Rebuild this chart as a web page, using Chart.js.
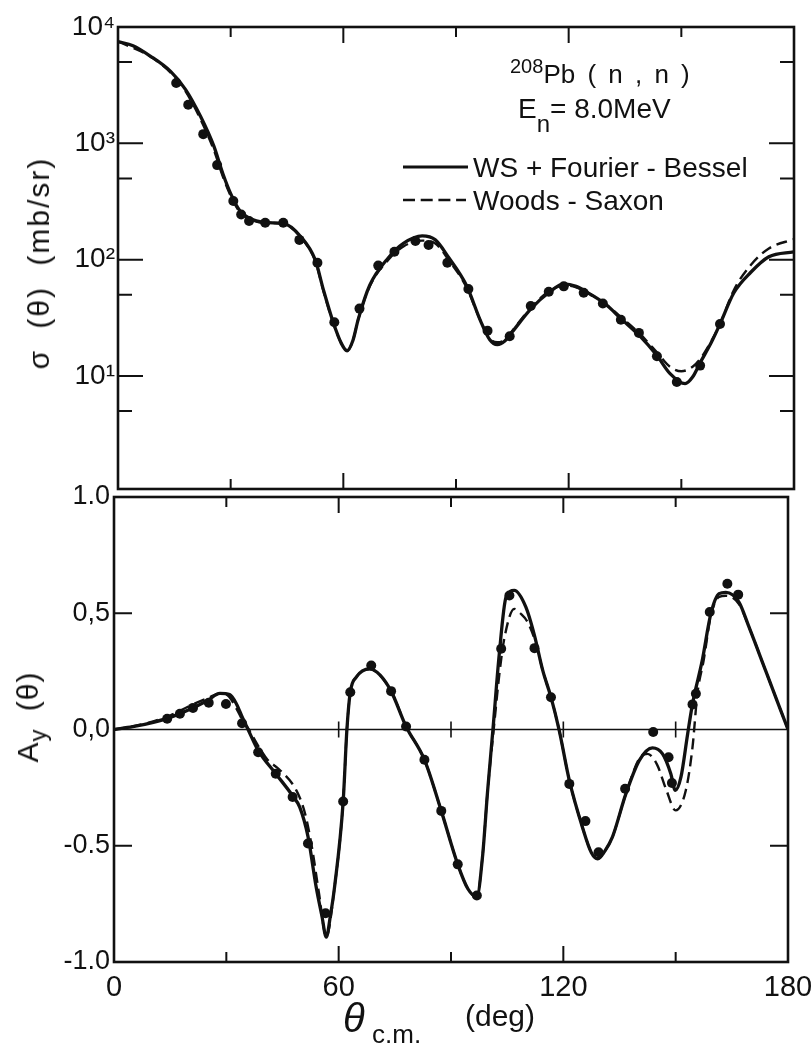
<!DOCTYPE html>
<html><head><meta charset="utf-8">
<script src="https://cdn.jsdelivr.net/npm/chart.js@4.4.0/dist/chart.umd.min.js"></script>
<style>
html,body{margin:0;padding:0;background:#fff;width:811px;height:1045px;overflow:hidden;font-family:"Liberation Sans",Arial,sans-serif;color:#111}
canvas{position:absolute;left:0}
#c1{top:0}
#c2{top:470px}
.t{position:absolute;white-space:nowrap;line-height:1;color:#111}
</style></head><body>
<canvas id="c1" width="811" height="495"></canvas>
<canvas id="c2" width="811" height="575"></canvas>

<div class="t" style="left:510px;top:61px;font-size:26px;word-spacing:5px"><span style="font-size:20px;position:relative;top:-10px">208</span>Pb ( n , n )</div>
<div class="t" style="left:518px;top:95px;font-size:28px">E<span style="font-size:24px;position:relative;top:14px">n</span>= 8.0MeV</div>
<svg class="t" style="left:400px;top:160px" width="72" height="50">
  <line x1="3" y1="7" x2="68" y2="7" stroke="#111" stroke-width="3.2"/>
  <line x1="3" y1="40" x2="66" y2="40" stroke="#111" stroke-width="2.4" stroke-dasharray="12 5.7"/>
</svg>
<div class="t" style="left:473px;top:154px;font-size:28px">WS + Fourier - Bessel</div>
<div class="t" style="left:473px;top:187px;font-size:28px">Woods - Saxon</div>

<div class="t" style="left:39px;top:263px;font-size:30px;letter-spacing:2px;word-spacing:10px;transform:translate(-50%,-50%) rotate(-90deg)">σ (θ) (mb/sr)</div>
<div class="t" style="left:28px;top:717px;font-size:30px;letter-spacing:1px;word-spacing:8px;transform:translate(-50%,-50%) rotate(-90deg)">A<span style="font-size:24px;position:relative;top:8px">y</span> (θ)</div>

<div class="t" style="left:343px;top:998px;font-size:40px;font-style:italic">θ</div>
<div class="t" style="left:372px;top:1021px;font-size:26px">c.m.</div>
<div class="t" style="left:465px;top:1001px;font-size:30px">(deg)</div>

<script>
// ---------- data ----------
const xTickValues = [0, 60, 120, 180];

const csTickValues = [10, 100, 1000, 10000];
const csTickLabels = ['10¹', '10²', '10³', '10⁴'];

const ayTickValues = [-1, -0.5, 0, 0.5, 1];
const ayTickLabels = ['-1.0', '-0.5', '0,0', '0,5', '1.0'];

// measured cross sections (deg, mb/sr)
const csAngle = [15.5,18.7,22.7,26.4,30.7,32.8,34.9,39.2,44.0,48.3,53.1,57.6,64.3,69.3,73.6,79.2,82.7,87.7,93.3,98.4,104.3,109.9,114.7,118.7,124.0,129.1,133.9,138.7,143.5,148.8,155.0,160.3];
const csValue = [3300,2150,1200,650,320,245,215,208,208,148,94,29,38,89,117,145,134,94,56,24.5,22,40,53,59,52,42,30.5,23.5,14.8,8.9,12.3,28];

// WS + Fourier-Bessel calculation
const csFbAngle = [0,4,8.5,14,18,22,25.5,28,30,32.5,36,40,44,48.5,52.5,54.7,57.3,59.5,61,62.5,64,67,72,76,81,84.5,88,92.8,96.5,99,101,103,105,110,115,118.7,122,126,130,134,139,143.5,147,151,153,155,158,160.3,164,168.5,173.3,180];
const csFbValue = [7500,6900,5650,4150,2900,1700,950,540,370,262,220,208,205,160,100,55,29,19,16.5,20,31,60,104,138,160,148,105,60,30,20.5,18.6,20,24,38,53,62,59,50,41,31,22,15,10.5,8.6,9.8,13,19.5,28,52,78,106,117];

// Woods-Saxon calculation
const csWsAngle = [0,8.5,14,18,22,25.5,28,30,32.5,36,40,44,48.5,52.5,54.7,57.3,59.5,61,62.5,64,67,72,76,81,84.5,88,92.8,96.5,99,101,103,105,110,115,118.7,122,126,130,134,139,143.5,147,150,153,155,158,160.3,164,168.5,173.3,180];
const csWsValue = [7500,5600,4050,2800,1600,880,510,355,255,218,207,204,158,98,54,28.5,19,16.5,20,31,59,100,130,146,138,100,58,30,21,19.5,20.5,24.5,39,54,60,58,50,41,32,23,16,12,11,12,14,20,28,55,90,125,150];

// measured analyzing power
const ayAngle = [14.2,17.6,21.1,25.3,29.9,34.2,38.5,43.2,47.7,51.8,56.5,61.2,63.1,68.7,74.0,78.0,82.9,87.4,91.8,96.9,103.4,105.6,112.3,116.7,121.6,125.9,129.4,136.5,144.0,148.1,149.0,154.5,155.4,159.1,163.8,166.7];
const ayValue = [0.046,0.068,0.093,0.115,0.11,0.027,-0.098,-0.19,-0.29,-0.49,-0.79,-0.31,0.16,0.275,0.165,0.013,-0.13,-0.35,-0.58,-0.714,0.347,0.576,0.35,0.139,-0.234,-0.394,-0.528,-0.255,-0.011,-0.119,-0.23,0.108,0.154,0.505,0.627,0.58];

const ayFbAngle = [0,5,10.5,15,20,25,28.3,30.9,32.7,34.2,35.8,38.5,43.2,47.7,49.6,51.8,54.0,55.5,56.7,57.8,58.9,61.2,62.2,63.1,64.7,68.3,71,74.0,78.0,82.9,87.4,91.8,94.5,96.9,98.4,99.8,101.2,102.9,104.7,106.9,110.0,112.3,114.5,116.7,118.9,121.6,125.1,127.5,129.2,131,133.1,136.7,140.3,143.8,146.5,148.7,149.9,151.4,153.2,154.5,157.1,159.4,161.6,163.4,166.9,169.6,174.0,180];
const ayFbValue = [0,0.012,0.031,0.052,0.085,0.125,0.155,0.15,0.11,0.055,0,-0.09,-0.19,-0.285,-0.334,-0.46,-0.678,-0.8,-0.893,-0.8,-0.678,-0.31,0,0.16,0.225,0.261,0.235,0.165,0.013,-0.13,-0.35,-0.58,-0.685,-0.72,-0.55,-0.26,0,0.326,0.569,0.598,0.526,0.404,0.254,0.139,-0.004,-0.219,-0.42,-0.53,-0.556,-0.525,-0.463,-0.277,-0.133,-0.079,-0.105,-0.19,-0.262,-0.205,-0.019,0.11,0.297,0.498,0.584,0.59,0.548,0.44,0.254,0];

const ayWsAngle = [0,5,10.5,15,20,25,28.3,30.5,32.7,34.5,36,38.5,41,44,48.7,51,53,54.7,56.7,58.9,61.2,62.2,63.1,64.7,68.3,74,78,82.9,87.4,91.8,94.5,96.9,98.4,99.8,101.4,103,104.3,106.9,108.5,110.5,112.7,114.5,116.7,118.9,121.6,125.1,127.5,129.2,131,133.1,136.7,140.3,142.5,145,147.5,150,152.7,154.5,155.8,157.5,159.4,161.6,163.4,166.9,169.6,174,180];
const ayWsValue = [0,0.013,0.035,0.06,0.1,0.135,0.155,0.145,0.09,0.035,0,-0.07,-0.13,-0.17,-0.262,-0.36,-0.52,-0.7,-0.89,-0.678,-0.31,0,0.16,0.225,0.26,0.165,0.013,-0.13,-0.35,-0.58,-0.685,-0.72,-0.55,-0.26,0,0.25,0.397,0.519,0.5,0.461,0.369,0.254,0.139,-0.004,-0.219,-0.42,-0.53,-0.556,-0.525,-0.463,-0.277,-0.125,-0.105,-0.15,-0.26,-0.348,-0.262,-0.076,0.154,0.3,0.49,0.57,0.575,0.54,0.44,0.254,0];

// ---------- helpers ----------
const pts = (xs, ys) => xs.map((x, i) => ({x: x, y: ys[i]}));
const INK = '#111';
Chart.defaults.font.family = '"Liberation Sans", Arial, sans-serif';
Chart.defaults.color = INK;

const framePlugin = {
  id: 'frame',
  beforeDatasetsDraw(chart, args, o) {
    if (!o.zeroLine) return;
    const {ctx, chartArea: a, scales} = chart;
    const y0 = scales.y.getPixelForValue(0);
    ctx.save();
    ctx.strokeStyle = INK;
    ctx.lineWidth = 1.6;
    ctx.beginPath();
    ctx.moveTo(a.left, y0); ctx.lineTo(a.right, y0);
    for (const v of o.zeroCross) {
      const x = scales.x.getPixelForValue(v);
      ctx.moveTo(x, y0 - 8); ctx.lineTo(x, y0 + 8);
    }
    ctx.stroke();
    ctx.restore();
  },
  afterDatasetsDraw(chart, args, o) {
    const {ctx, chartArea: a, scales} = chart;
    ctx.save();
    ctx.strokeStyle = INK;
    ctx.lineWidth = 2.6;
    ctx.strokeRect(a.left, a.top, a.right - a.left, a.bottom - a.top);
    ctx.lineWidth = 2;
    ctx.beginPath();
    for (const t of o.yMarks) {
      const y = scales.y.getPixelForValue(t[0]);
      ctx.moveTo(a.left, y); ctx.lineTo(a.left + t[1], y);
      ctx.moveTo(a.right, y); ctx.lineTo(a.right - t[1], y);
    }
    for (const t of o.xMarks) {
      const x = scales.x.getPixelForValue(t[0]);
      ctx.moveTo(x, a.top); ctx.lineTo(x, a.top + t[1]);
      ctx.moveTo(x, a.bottom); ctx.lineTo(x, a.bottom - t[1]);
    }
    ctx.stroke();
    ctx.restore();
  }
};

const xMarks = [[30, 10], [60, 16], [90, 10], [120, 16], [150, 10]];

function lineSet(label, data, width, dash) {
  return {type: 'line', label: label, data: data, borderColor: INK, borderWidth: width,
    borderDash: dash || [], pointRadius: 0, fill: false, cubicInterpolationMode: 'monotone'};
}
function dotSet(label, data) {
  return {type: 'scatter', label: label, data: data, showLine: false, pointRadius: 5,
    pointHoverRadius: 5, backgroundColor: INK, borderColor: INK, borderWidth: 0};
}

// ---------- top: cross section ----------
new Chart(document.getElementById('c1'), {
  type: 'line',
  data: {datasets: [
    lineSet('Woods - Saxon', pts(csWsAngle, csWsValue), 2.4, [11, 6]),
    lineSet('WS + Fourier - Bessel', pts(csFbAngle, csFbValue), 3.3),
    dotSet('data', pts(csAngle, csValue))
  ]},
  options: {
    responsive: false, animation: false, events: [],
    layout: {padding: {left: 0, right: 17, top: 27, bottom: 6}},
    plugins: {
      legend: {display: false}, tooltip: {enabled: false},
      frame: {xMarks: xMarks, yMarks: [[5,14],[10,25],[50,14],[100,25],[500,14],[1000,25],[5000,14]]}
    },
    scales: {
      x: {type: 'linear', min: 0, max: 180, display: false},
      y: {
        type: 'logarithmic', min: 1.07, max: 10000,
        grid: {display: false, drawTicks: false}, border: {display: false},
        afterBuildTicks(s) { s.ticks = csTickValues.map(v => ({value: v})); },
        afterFit(s) { s.width = 118; s.paddingTop = 0; s.paddingBottom = 0; },
        ticks: {padding: 3, font: {size: 28}, color: INK,
          callback: (v) => { const i = csTickValues.indexOf(v); return i >= 0 ? csTickLabels[i] : ''; }}
      }
    }
  },
  plugins: [framePlugin]
});

// ---------- bottom: analyzing power ----------
new Chart(document.getElementById('c2'), {
  type: 'line',
  data: {datasets: [
    lineSet('Woods - Saxon', pts(ayWsAngle, ayWsValue), 2.4, [11, 6]),
    lineSet('WS + Fourier - Bessel', pts(ayFbAngle, ayFbValue), 3.3),
    dotSet('data', pts(ayAngle, ayValue))
  ]},
  options: {
    responsive: false, animation: false, events: [],
    layout: {padding: {left: 0, right: 23, top: 27, bottom: 0}},
    plugins: {
      legend: {display: false}, tooltip: {enabled: false},
      frame: {xMarks: xMarks, yMarks: [[0.5, 18], [-0.5, 18]], zeroLine: true, zeroCross: [60, 90, 120, 150]}
    },
    scales: {
      x: {
        type: 'linear', min: 0, max: 180,
        grid: {display: false, drawTicks: false}, border: {display: false},
        afterBuildTicks(s) { s.ticks = xTickValues.map(v => ({value: v})); },
        afterFit(s) { s.height = 83; s.paddingLeft = 0; s.paddingRight = 0; },
        ticks: {padding: 9, font: {size: 29}, color: INK, maxRotation: 0, autoSkip: false}
      },
      y: {
        type: 'linear', min: -1, max: 1,
        grid: {display: false, drawTicks: false}, border: {display: false},
        afterBuildTicks(s) { s.ticks = ayTickValues.map(v => ({value: v})); },
        afterFit(s) { s.width = 114; s.paddingTop = 0; s.paddingBottom = 0; },
        ticks: {padding: 4, font: {size: 27}, color: INK,
          callback: (v) => { const i = ayTickValues.indexOf(v); return i >= 0 ? ayTickLabels[i] : ''; }}
      }
    }
  },
  plugins: [framePlugin]
});
</script>
</body></html>
